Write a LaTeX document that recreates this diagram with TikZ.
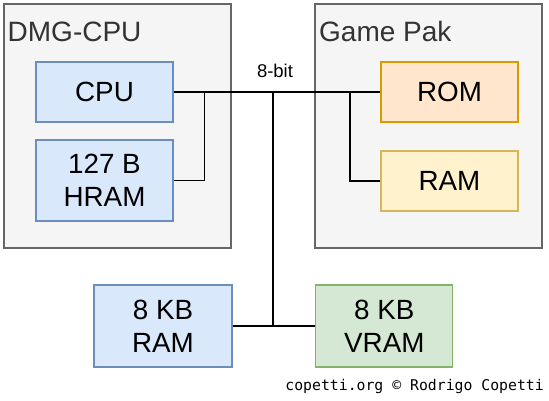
\documentclass[tikz,border=0pt]{standalone}
\usepackage{fontspec}
\setmainfont{Liberation Sans}
\newfontfamily\monofam{DejaVu Sans Mono}
\definecolor{grpfill}{HTML}{F5F5F5}
\definecolor{grpdraw}{HTML}{666666}
\definecolor{grptext}{HTML}{333333}
\definecolor{bluefill}{HTML}{DAE8FC}
\definecolor{bluedraw}{HTML}{6C8EBF}
\definecolor{orangefill}{HTML}{FFE6CC}
\definecolor{orangedraw}{HTML}{D79B00}
\definecolor{yellowfill}{HTML}{FFF2CC}
\definecolor{yellowdraw}{HTML}{D6B656}
\definecolor{greenfill}{HTML}{D5E8D4}
\definecolor{greendraw}{HTML}{82B366}
\begin{document}
\begin{tikzpicture}[x=1pt,y=-1pt,
  group/.style={draw=grpdraw,fill=grpfill,line width=1.3pt,inner sep=0pt,minimum width=227pt,minimum height=244pt},
  grouplabel/.style={anchor=base west,inner sep=0pt,text=grptext,font=\fontsize{28}{33}\selectfont},
  chip/.style={line width=1.2pt,inner sep=0pt,align=center,font=\fontsize{27.8}{33}\selectfont,minimum width=137pt,minimum height=60pt},
  bluechip/.style={chip,draw=bluedraw,fill=bluefill},
  orangechip/.style={chip,draw=orangedraw,fill=orangefill},
  yellowchip/.style={chip,draw=yellowdraw,fill=yellowfill},
  greenchip/.style={chip,draw=greendraw,fill=greenfill},
  wire/.style={draw=black,line width=1.4pt}]
\useasboundingbox (0,0) rectangle (549,400);
\fill[white] (0,0) rectangle (549,400);
% groups
\node[group] (dmg) at (117.5,126) {};
\node[group] (pak) at (428.5,126) {};
\node[grouplabel] (dmglabel) at (7.5,41) {DMG-CPU};
\node[grouplabel] (paklabel) at (319,41) {Game Pak};
% chips
\node[bluechip] (cpu) at (104.5,92) {CPU};
\node[bluechip,minimum height=81pt] (hram) at (104.5,180.5) {127 B\\HRAM};
\node[orangechip] (rom) at (449.5,92) {ROM};
\node[yellowchip] (cram) at (449.5,181) {RAM};
\node[bluechip,minimum width=138pt,minimum height=82pt] (wram) at (163,326) {8 KB\\RAM};
\node[greenchip,minimum height=82pt] (vram) at (384.3,326) {8 KB\\VRAM};
% bus
\coordinate (j1) at (204.3,92);
\coordinate (j2) at (273,92);
\coordinate (j3) at (350,92);
\coordinate (j4) at (273,326);
\draw[wire] (cpu.east) -- (rom.west);
\draw[wire] (hram.east) -| (j1);
\draw[wire] (cram.west) -| (j3);
\draw[wire] (j2) -- (j4);
\draw[wire] (wram.east) -- (vram.west);
\node[anchor=base,inner sep=0pt,font=\fontsize{18.5}{22}\selectfont] (buslabel) at (275,77) {8-bit};
\node[anchor=base east,inner sep=0pt,font=\monofam\fontsize{14.8}{18}\selectfont] (credit) at (544,390) {copetti.org © Rodrigo Copetti};
\end{tikzpicture}
\end{document}
